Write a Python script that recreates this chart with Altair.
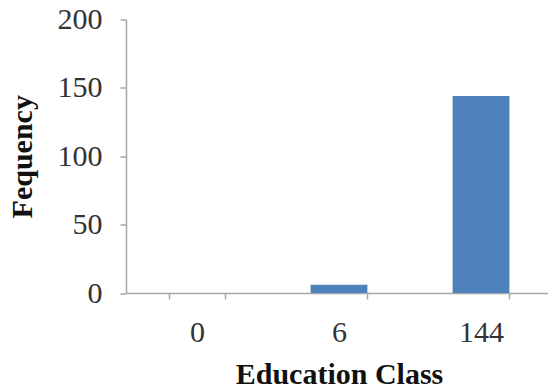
import altair as alt
import pandas as pd

categories = ["0", "6", "144"]
values = [0, 6, 144]

df = pd.DataFrame({"cls": categories, "freq": values})

chart = alt.Chart(df).mark_bar(color="#4F81BD").encode(
    x=alt.X("cls:N", sort=categories, title="Education Class",
            scale=alt.Scale(paddingInner=0.6, paddingOuter=0.3, range=[0, 426]),
            axis=alt.Axis(labelAngle=0, tickBand="extent", labelFont="Liberation Serif",
                          labelFontSize=30, labelColor="#333333", labelPadding=18,
                          titleFont="Liberation Serif", titleFontSize=30, titleFontWeight="bold",
                          titleColor="#111111", titlePadding=12, titleX=213,
                          domainColor="#A6A6A6", domainWidth=1.5, tickColor="#A6A6A6",
                          tickWidth=1.5, tickSize=6)),
    y=alt.Y("freq:Q", title="Fequency",
            scale=alt.Scale(domain=[0, 200]),
            axis=alt.Axis(values=[0, 50, 100, 150, 200], grid=False,
                          labelFont="Liberation Serif", labelFontSize=30, labelColor="#333333",
                          labelPadding=18,
                          titleFont="Liberation Serif", titleFontSize=30, titleFontWeight="bold",
                          titleColor="#111111", titlePadding=20,
                          domainColor="#A6A6A6", domainWidth=1.5, tickColor="#A6A6A6",
                          tickWidth=1.5, tickSize=6)),
    opacity=alt.condition(alt.datum.freq > 0, alt.value(1), alt.value(0)),
).properties(
    width=422, height=273.5,
    autosize=alt.AutoSizeParams(type="none"),
    padding={"left": 126, "top": 19.5, "right": 0, "bottom": 96},
).configure_view(stroke=None)

chart.save("out.html", embed_options={"renderer": "svg", "actions": False})
